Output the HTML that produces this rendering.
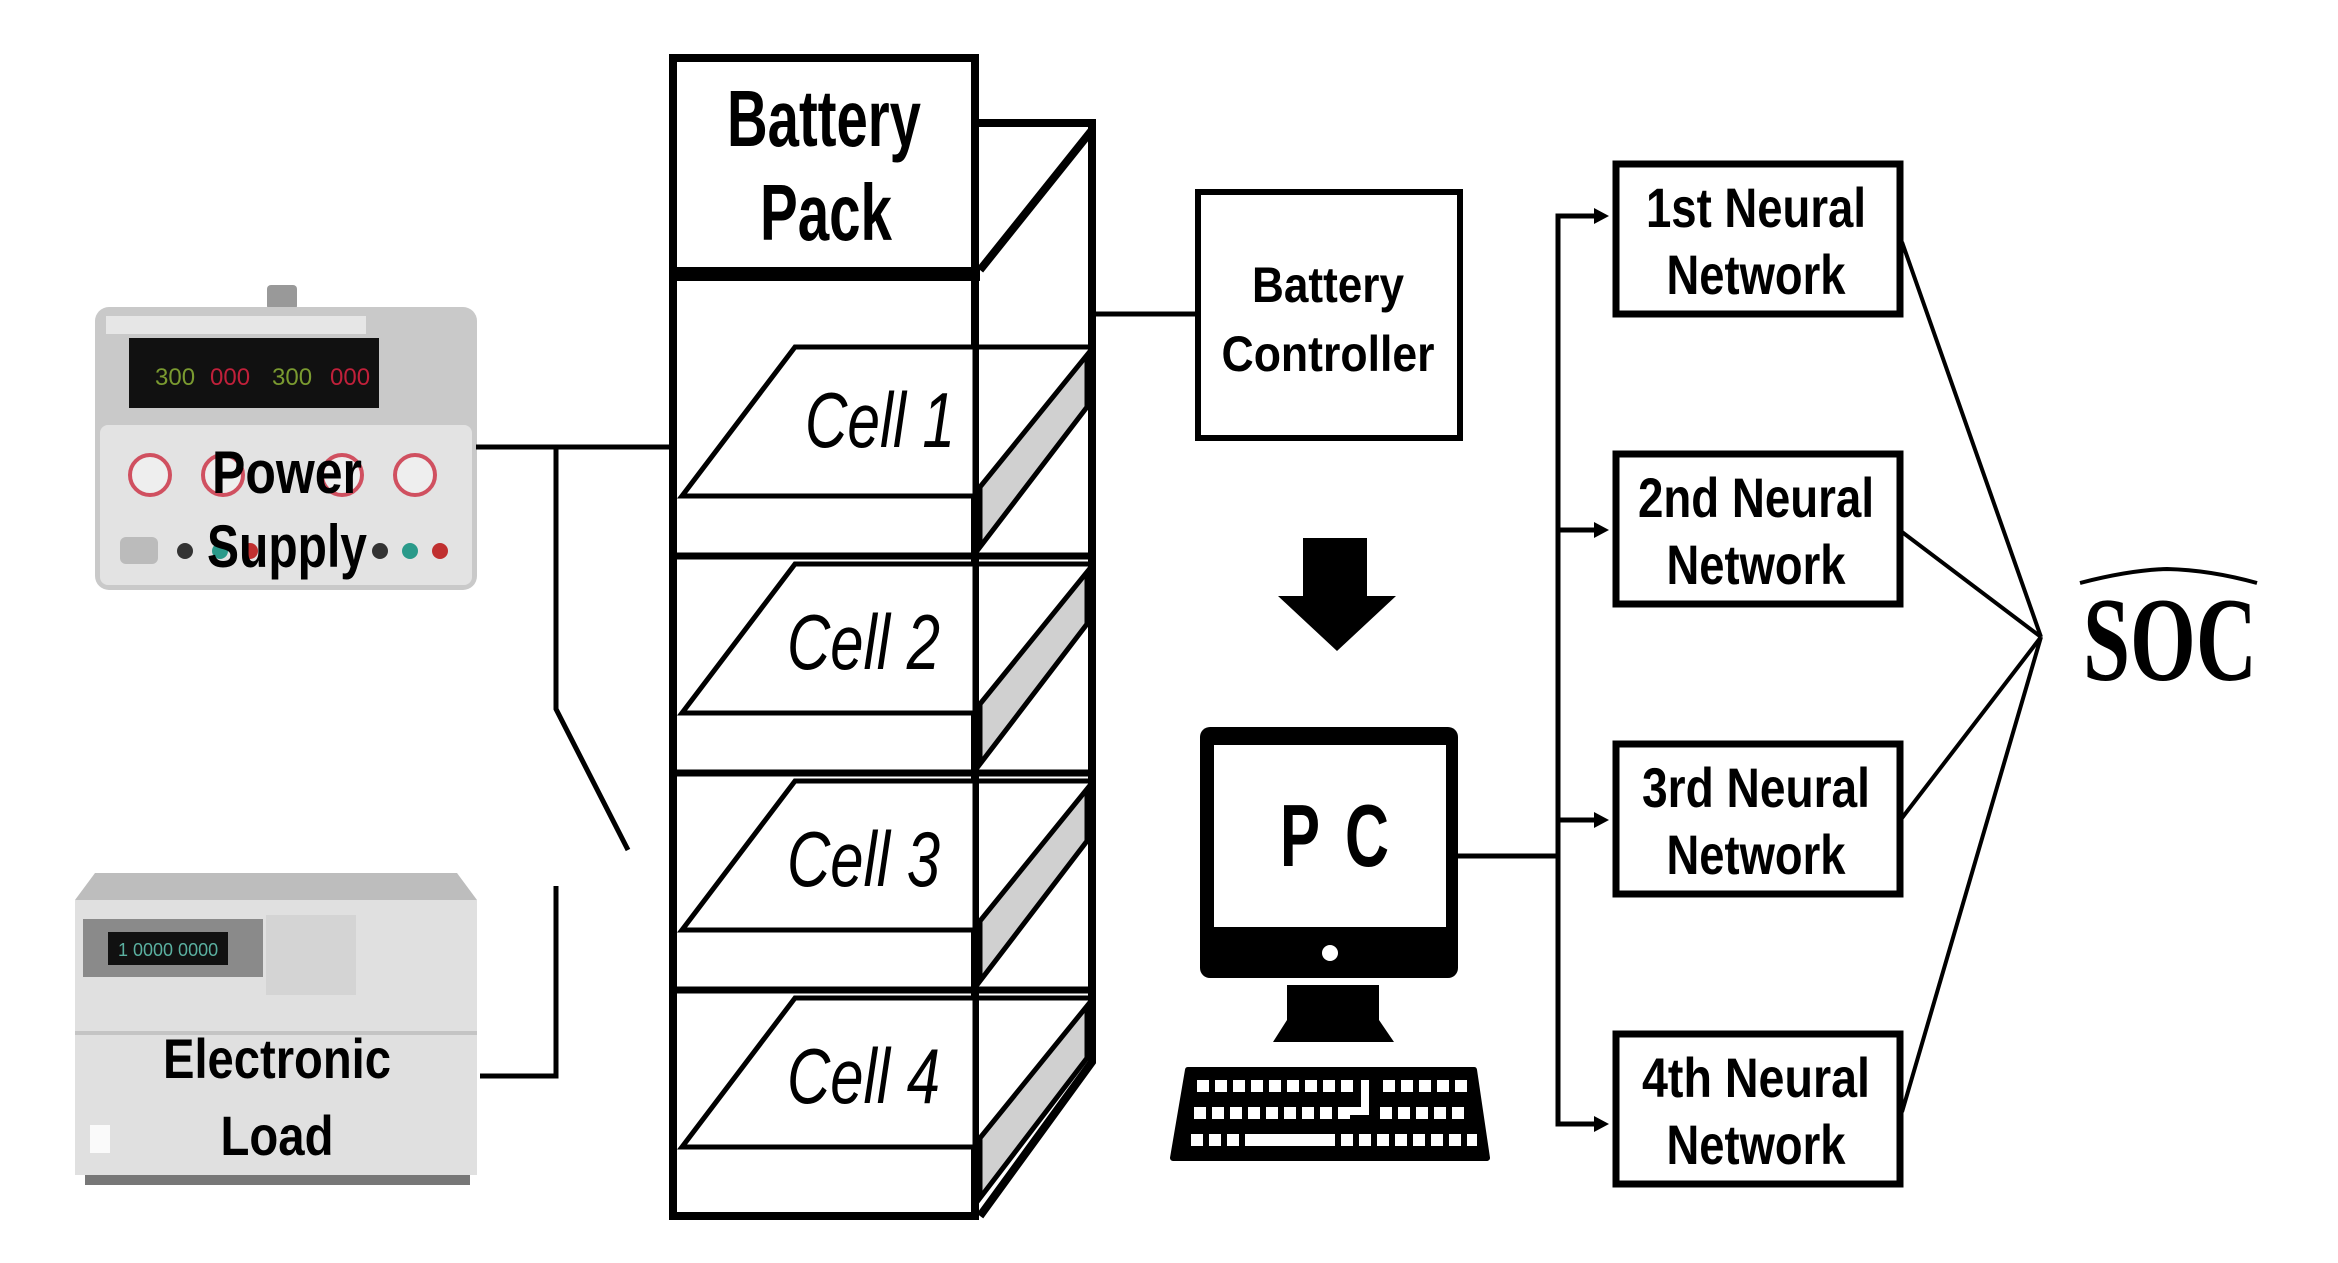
<!DOCTYPE html>
<html><head><style>html,body{margin:0;padding:0;background:#fff}svg{display:block}</style></head>
<body>
<svg width="2338" height="1263" viewBox="0 0 2338 1263" xmlns="http://www.w3.org/2000/svg" font-family="Liberation Sans, DejaVu Sans, sans-serif">
<rect width="2338" height="1263" fill="#fff"/>
<!-- Power supply -->
<g>
<rect x="267" y="285" width="30" height="25" rx="4" fill="#999"/>
<rect x="95" y="307" width="382" height="283" rx="14" fill="#c9c9c9"/>
<rect x="106" y="316" width="260" height="18" fill="#e6e6e6"/>
<rect x="129" y="338" width="250" height="70" fill="#111"/>
<text x="155" y="385" font-size="24" fill="#7a9a30">300</text>
<text x="210" y="385" font-size="24" fill="#c0203a">000</text>
<text x="272" y="385" font-size="24" fill="#7a9a30">300</text>
<text x="330" y="385" font-size="24" fill="#c0203a">000</text>
<rect x="100" y="425" width="372" height="160" rx="8" fill="#e3e3e3"/>
<circle cx="150" cy="475" r="20" fill="#eee" stroke="#d05060" stroke-width="4"/>
<circle cx="223" cy="475" r="20" fill="#eee" stroke="#d05060" stroke-width="4"/>
<circle cx="342" cy="475" r="20" fill="#eee" stroke="#d05060" stroke-width="4"/>
<circle cx="415" cy="475" r="20" fill="#eee" stroke="#d05060" stroke-width="4"/>
<rect x="120" y="537" width="38" height="27" rx="6" fill="#bbb"/>
<circle cx="185" cy="551" r="8" fill="#333"/><circle cx="220" cy="551" r="8" fill="#2a9a8a"/><circle cx="250" cy="551" r="8" fill="#c03030"/>
<circle cx="380" cy="551" r="8" fill="#333"/><circle cx="410" cy="551" r="8" fill="#2a9a8a"/><circle cx="440" cy="551" r="8" fill="#c03030"/>
<text x="287" y="493" font-size="60" font-weight="bold" text-anchor="middle" textLength="150" lengthAdjust="spacingAndGlyphs">Power</text>
<text x="287" y="567" font-size="60" font-weight="bold" text-anchor="middle" textLength="160" lengthAdjust="spacingAndGlyphs">Supply</text>
</g>
<!-- Electronic load -->
<g>
<polygon points="95,873 457,873 477,900 75,900" fill="#bdbdbd"/>
<rect x="75" y="900" width="402" height="275" fill="#e0e0e0"/>
<rect x="83" y="919" width="180" height="58" fill="#8a8a8a"/>
<rect x="108" y="932" width="120" height="33" fill="#111"/>
<text x="118" y="956" font-size="18" fill="#5ab0a0">1 0000 0000</text>
<rect x="266" y="915" width="90" height="80" fill="#d4d4d4"/>
<rect x="75" y="1031" width="402" height="4" fill="#c4c4c4"/>
<rect x="90" y="1125" width="20" height="28" fill="#fafafa"/>
<rect x="85" y="1175" width="385" height="10" fill="#777"/>
<text x="277" y="1078" font-size="56" font-weight="bold" text-anchor="middle" textLength="228" lengthAdjust="spacingAndGlyphs">Electronic</text>
<text x="277" y="1155" font-size="56" font-weight="bold" text-anchor="middle" textLength="113" lengthAdjust="spacingAndGlyphs">Load</text>
</g>
<!-- connectors left -->
<g stroke="#000" stroke-width="5" fill="none">
<polyline points="476,447 672,447"/>
<polyline points="556,447 556,709 628,850"/>
<polyline points="556,886 556,1076 480,1076"/>
<polyline points="1092,314 1198,314"/>
</g>
<!-- battery pack -->
<g stroke="#000" fill="none">
<rect x="673" y="58" width="302" height="1158" stroke-width="8"/>
<line x1="670" y1="274" x2="980" y2="274" stroke-width="14"/>
<polyline points="975,123 1092,123 1092,1062 980,1216" stroke-width="8"/>
<line x1="980" y1="270" x2="1092" y2="130" stroke-width="8"/>
</g>
<g stroke="#000" stroke-width="5" fill="none">
<g id="c0">
<polygon points="795,347 975,347 975,496 682,496" fill="#fff"/>
<line x1="675" y1="556" x2="1092" y2="556" stroke-width="7"/>
<line x1="975" y1="347" x2="1092" y2="347"/>
<polygon points="980,487 1087,355 1087,407 980,547" fill="#d0d0d0"/>
</g>
<use href="#c0" y="217"/>
<use href="#c0" y="434"/>
<g transform="translate(0,651)">
<polygon points="795,347 975,347 975,496 682,496" fill="#fff"/>
<line x1="975" y1="347" x2="1092" y2="347"/>
<polygon points="980,487 1087,355 1087,407 980,547" fill="#d0d0d0"/>
</g>
</g>
<g font-size="80" font-weight="bold">
<text x="824" y="146" text-anchor="middle" textLength="194" lengthAdjust="spacingAndGlyphs">Battery</text>
<text x="826" y="240" text-anchor="middle" textLength="132" lengthAdjust="spacingAndGlyphs">Pack</text>
</g>
<g font-style="italic" font-size="78">
<text x="805" y="447" textLength="150" lengthAdjust="spacingAndGlyphs">Cell 1</text>
<text x="787" y="669" textLength="153" lengthAdjust="spacingAndGlyphs">Cell 2</text>
<text x="787" y="886" textLength="153" lengthAdjust="spacingAndGlyphs">Cell 3</text>
<text x="787" y="1103" textLength="153" lengthAdjust="spacingAndGlyphs">Cell 4</text>
</g>
<!-- controller -->
<rect x="1198" y="192" width="262" height="246" fill="#fff" stroke="#000" stroke-width="6"/>
<text x="1328" y="302" font-size="50" font-weight="bold" text-anchor="middle" textLength="152" lengthAdjust="spacingAndGlyphs">Battery</text>
<text x="1328" y="371" font-size="50" font-weight="bold" text-anchor="middle" textLength="213" lengthAdjust="spacingAndGlyphs">Controller</text>
<!-- down arrow -->
<polygon points="1303,538 1367,538 1367,596 1396,596 1337,651 1278,596 1303,596" fill="#000"/>
<!-- PC -->
<rect x="1200" y="727" width="258" height="251" rx="10" fill="#000"/>
<rect x="1214" y="745" width="232" height="182" fill="#fff"/>
<circle cx="1330" cy="953" r="8" fill="#fff"/>
<polygon points="1287,985 1379,985 1379,1020 1394,1042 1273,1042 1287,1020" fill="#000"/>
<polygon points="1188,1070 1474,1070 1487,1158 1173,1158" fill="#000" stroke="#000" stroke-width="6" stroke-linejoin="round"/>
<g fill="#fff">
<g id="kr"><rect x="1197" y="1080" width="12" height="12"/><rect x="1215" y="1080" width="12" height="12"/><rect x="1233" y="1080" width="12" height="12"/><rect x="1251" y="1080" width="12" height="12"/><rect x="1269" y="1080" width="12" height="12"/><rect x="1287" y="1080" width="12" height="12"/><rect x="1305" y="1080" width="12" height="12"/><rect x="1323" y="1080" width="12" height="12"/><rect x="1341" y="1080" width="12" height="12"/><rect x="1383" y="1080" width="12" height="12"/><rect x="1401" y="1080" width="12" height="12"/><rect x="1419" y="1080" width="12" height="12"/><rect x="1437" y="1080" width="12" height="12"/><rect x="1455" y="1080" width="12" height="12"/></g>
<use href="#kr" x="-3" y="27"/>
<rect x="1191" y="1134" width="12" height="12"/><rect x="1209" y="1134" width="12" height="12"/><rect x="1227" y="1134" width="12" height="12"/><rect x="1245" y="1134" width="90" height="12"/><rect x="1341" y="1134" width="12" height="12"/><rect x="1359" y="1134" width="12" height="12"/><rect x="1377" y="1134" width="12" height="12"/><rect x="1395" y="1134" width="12" height="12"/><rect x="1413" y="1134" width="12" height="12"/><rect x="1431" y="1134" width="12" height="12"/><rect x="1449" y="1134" width="12" height="12"/><rect x="1467" y="1134" width="10" height="12"/>
<rect x="1361" y="1080" width="8" height="35"/><rect x="1346" y="1107" width="23" height="8"/>
</g>
<text x="1280" y="866" font-size="88" font-weight="bold" textLength="40" lengthAdjust="spacingAndGlyphs">P</text>
<text x="1345" y="866" font-size="88" font-weight="bold" textLength="44" lengthAdjust="spacingAndGlyphs">C</text>
<!-- bus -->
<g stroke="#000" stroke-width="5" fill="none">
<polyline points="1458,856 1558,856"/>
<polyline points="1598,216 1558,216 1558,1124 1598,1124"/>
<line x1="1558" y1="530" x2="1598" y2="530"/>
<line x1="1558" y1="820" x2="1598" y2="820"/>
<g stroke-width="4">
<line x1="1902" y1="242" x2="2041" y2="637"/>
<line x1="1902" y1="532" x2="2041" y2="637"/>
<line x1="1902" y1="818" x2="2041" y2="637"/>
<line x1="1902" y1="1112" x2="2041" y2="637"/>
</g>
</g>
<g fill="#000">
<polygon points="1609,216 1594,208 1594,224"/>
<polygon points="1609,530 1594,522 1594,538"/>
<polygon points="1609,820 1594,812 1594,828"/>
<polygon points="1609,1124 1594,1116 1594,1132"/>
</g>
<!-- NN boxes -->
<g fill="#fff" stroke="#000" stroke-width="7">
<rect x="1616" y="164" width="284" height="150"/>
<rect x="1616" y="454" width="284" height="150"/>
<rect x="1616" y="744" width="284" height="150"/>
<rect x="1616" y="1034" width="284" height="150"/>
</g>
<g font-size="56" font-weight="bold" text-anchor="middle">
<text x="1756" y="227" textLength="220" lengthAdjust="spacingAndGlyphs">1st Neural</text>
<text x="1756" y="294" textLength="179" lengthAdjust="spacingAndGlyphs">Network</text>
<text x="1756" y="517" textLength="236" lengthAdjust="spacingAndGlyphs">2nd Neural</text>
<text x="1756" y="584" textLength="179" lengthAdjust="spacingAndGlyphs">Network</text>
<text x="1756" y="807" textLength="228" lengthAdjust="spacingAndGlyphs">3rd Neural</text>
<text x="1756" y="874" textLength="179" lengthAdjust="spacingAndGlyphs">Network</text>
<text x="1756" y="1097" textLength="228" lengthAdjust="spacingAndGlyphs">4th Neural</text>
<text x="1756" y="1164" textLength="179" lengthAdjust="spacingAndGlyphs">Network</text>
</g>
<!-- SOC -->
<text x="2083" y="680" font-family="Liberation Serif, serif" font-weight="bold" font-size="120" textLength="174" lengthAdjust="spacingAndGlyphs">SOC</text>
<path d="M2080,583 Q2130,570 2167,569 Q2210,570 2257,583" stroke="#000" stroke-width="4" fill="none"/>
</svg>
</body></html>
